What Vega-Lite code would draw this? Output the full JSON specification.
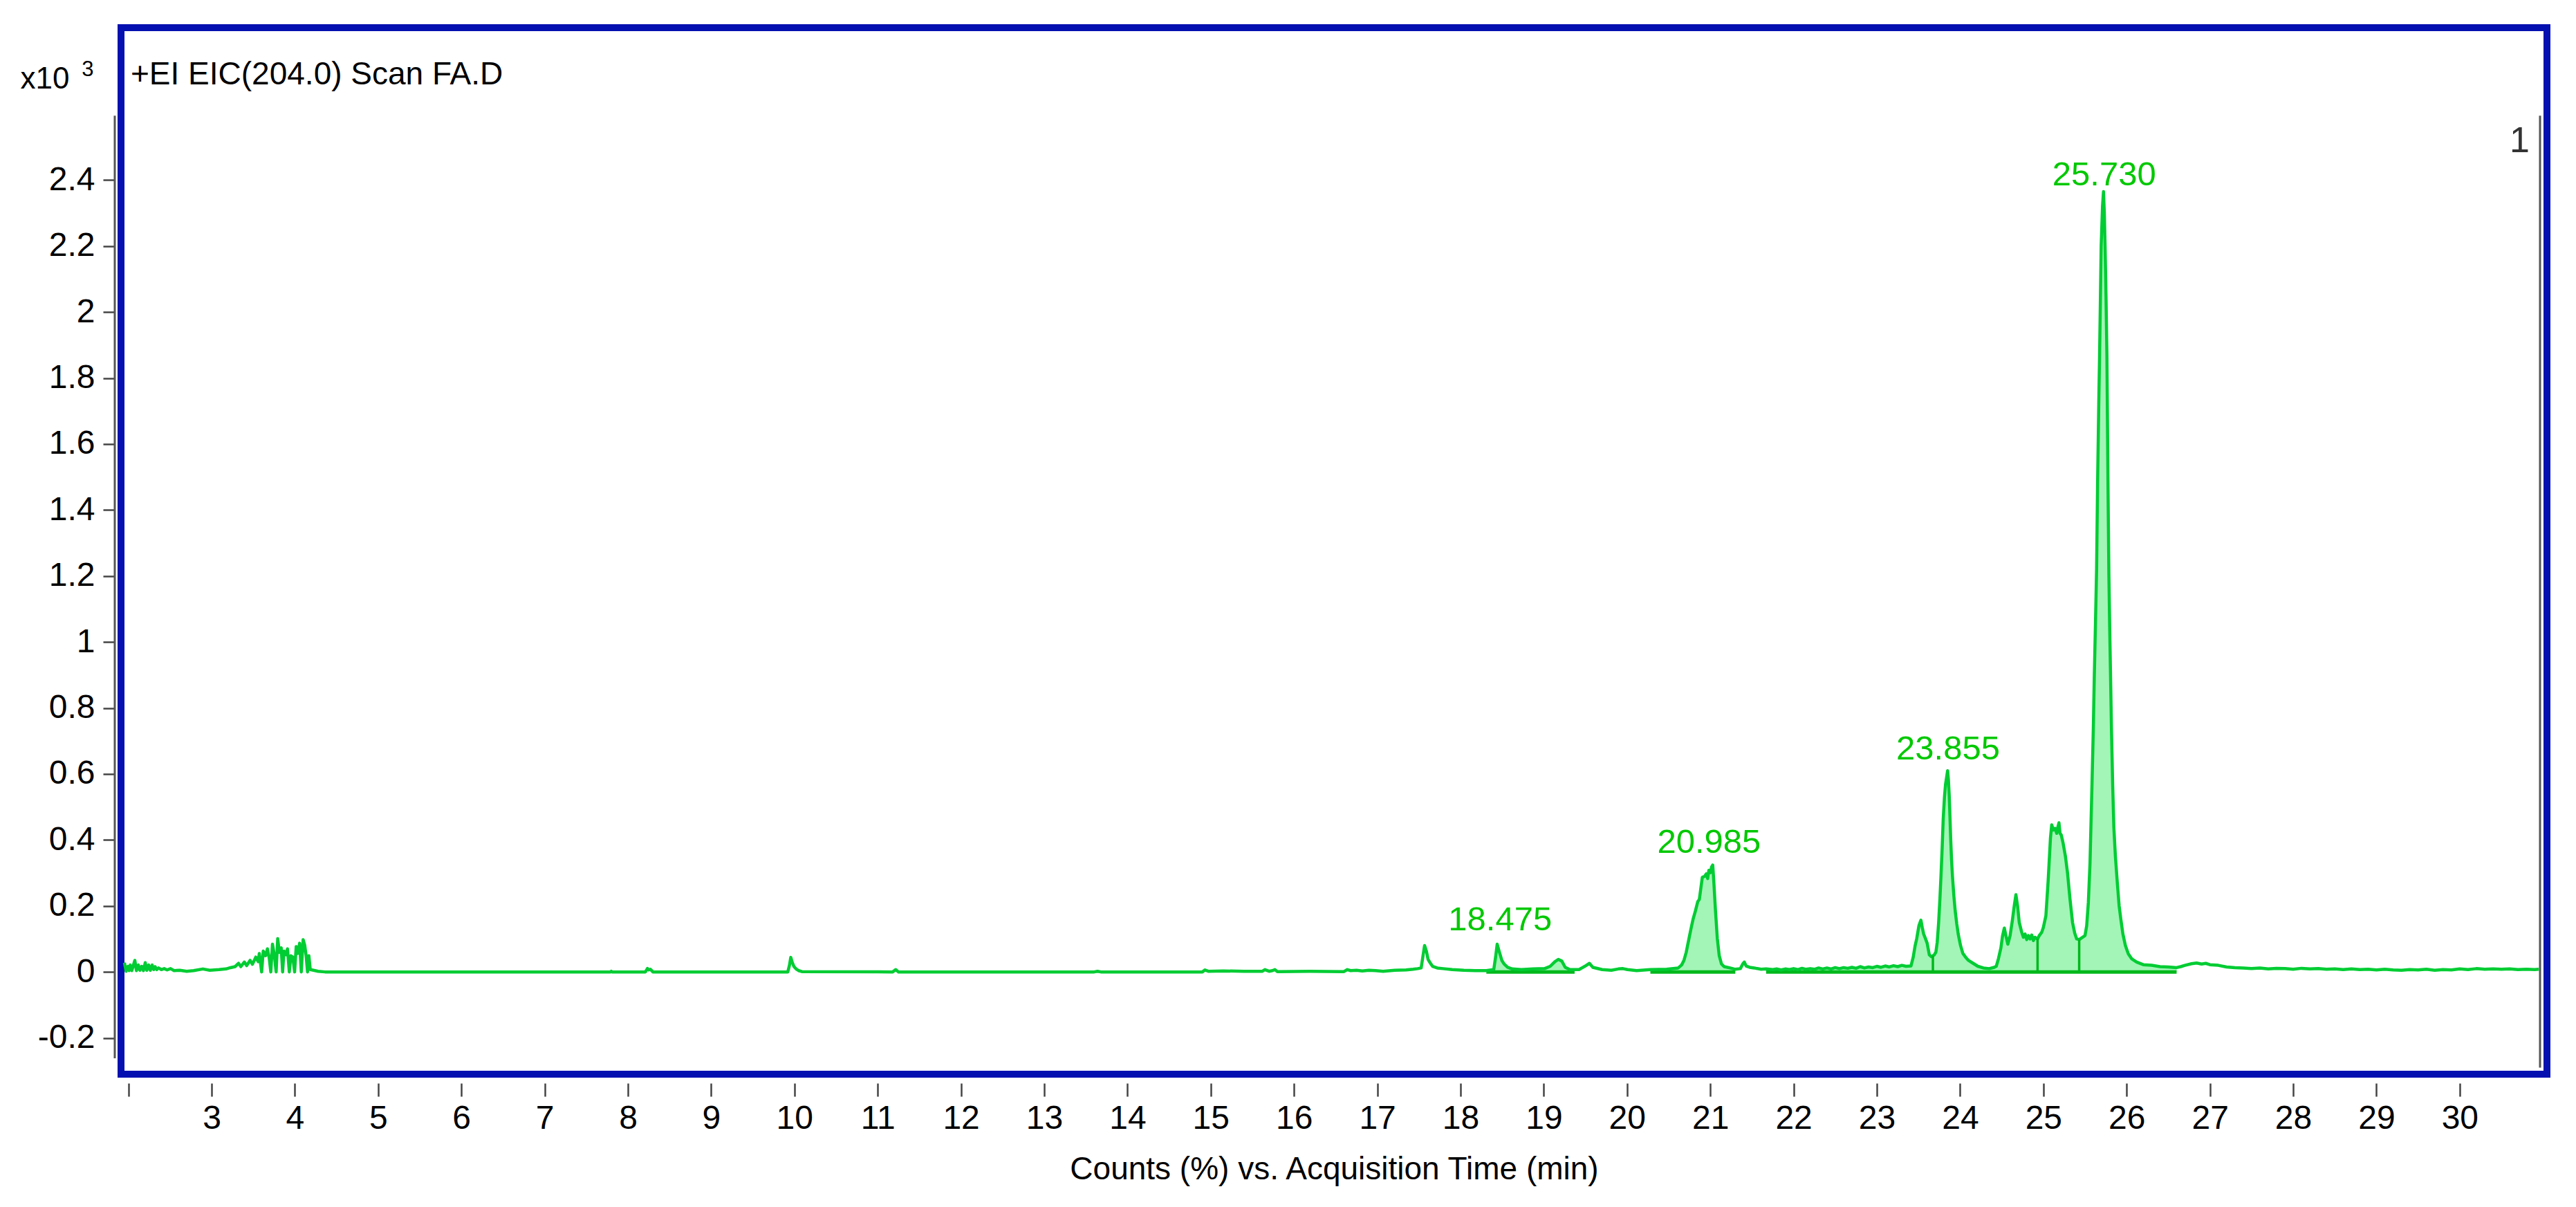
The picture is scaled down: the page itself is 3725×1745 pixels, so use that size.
{
"$schema": "https://vega.github.io/schema/vega-lite/v6.json",
"width": 3508, "height": 1513,
"autosize": {"type": "none"},
"padding": {"left": 175, "top": 40, "right": 42, "bottom": 192},
"background": "white",
"config": {
  "view": {"stroke": "#0510B0", "strokeWidth": 10},
  "font": "Liberation Sans, Arial, sans-serif"
},
"title": {"text": "+EI EIC(204.0) Scan FA.D", "anchor": "start", "frame": "group", "orient": "top", "baseline": "top", "offset": -92, "dx": 14, "fontSize": 46, "fontWeight": "normal", "color": "#000000"},
"datasets": {
  "trace": [
{"t":1.953,"v":0.028},{"t":1.973,"v":0.002},{"t":1.995,"v":0.017},{"t":2.009,"v":0.004},{"t":2.023,"v":0.021},{"t":2.042,"v":0.004},{"t":2.078,"v":0.035},{"t":2.097,"v":0.004},{"t":2.12,"v":0.021},{"t":2.139,"v":0.005},{"t":2.161,"v":0.017},{"t":2.181,"v":0.004},{"t":2.203,"v":0.028},{"t":2.222,"v":0.005},{"t":2.244,"v":0.021},{"t":2.264,"v":0.005},{"t":2.286,"v":0.021},{"t":2.305,"v":0.007},{"t":2.322,"v":0.016},{"t":2.341,"v":0.007},{"t":2.363,"v":0.012},{"t":2.396,"v":0.007},{"t":2.43,"v":0.01},{"t":2.466,"v":0.006},{"t":2.507,"v":0.01},{"t":2.549,"v":0.004},{"t":2.618,"v":0.005},{"t":2.701,"v":0.002},{"t":2.784,"v":0.004},{"t":2.895,"v":0.009},{"t":2.978,"v":0.005},{"t":3.089,"v":0.007},{"t":3.172,"v":0.009},{"t":3.227,"v":0.013},{"t":3.282,"v":0.016},{"t":3.324,"v":0.026},{"t":3.351,"v":0.016},{"t":3.393,"v":0.03},{"t":3.421,"v":0.019},{"t":3.462,"v":0.035},{"t":3.49,"v":0.023},{"t":3.531,"v":0.045},{"t":3.559,"v":0.031},{"t":3.573,"v":0.056},{"t":3.601,"v":0.0},{"t":3.62,"v":0.063},{"t":3.648,"v":0.049},{"t":3.67,"v":0.07},{"t":3.692,"v":0.042},{"t":3.711,"v":0.0},{"t":3.731,"v":0.084},{"t":3.753,"v":0.052},{"t":3.775,"v":0.0},{"t":3.794,"v":0.101},{"t":3.814,"v":0.059},{"t":3.836,"v":0.073},{"t":3.853,"v":0.0},{"t":3.869,"v":0.063},{"t":3.891,"v":0.052},{"t":3.911,"v":0.07},{"t":3.933,"v":0.0},{"t":3.952,"v":0.049},{"t":3.975,"v":0.045},{"t":3.997,"v":0.0},{"t":4.016,"v":0.077},{"t":4.035,"v":0.056},{"t":4.057,"v":0.087},{"t":4.077,"v":0.0},{"t":4.099,"v":0.098},{"t":4.119,"v":0.08},{"t":4.135,"v":0.049},{"t":4.152,"v":0.0},{"t":4.168,"v":0.049},{"t":4.185,"v":0.007},{"t":4.224,"v":0.005},{"t":4.279,"v":0.002},{"t":4.362,"v":0.0},
{"t":4.5,"v":0.0},{"t":5.5,"v":0.0},{"t":6.5,"v":0.0},{"t":7.79,"v":0.0},{"t":7.8,"v":0.002},{"t":7.81,"v":0.0},{"t":8.21,"v":0.0},{"t":8.235,"v":0.0105},{"t":8.25,"v":0.006},{"t":8.27,"v":0.008},{"t":8.3,"v":0.0},{"t":9.92,"v":0.0},{"t":9.94,"v":0.02},{"t":9.956,"v":0.044},{"t":9.975,"v":0.028},{"t":9.995,"v":0.016},{"t":10.02,"v":0.009},{"t":10.05,"v":0.004},{"t":10.09,"v":0.001},{"t":11.18,"v":0.0},{"t":11.216,"v":0.007},{"t":11.25,"v":0.0},{"t":13.6,"v":0.0},{"t":13.64,"v":0.002},{"t":13.68,"v":0.0},{"t":14.9,"v":0.0},{"t":14.93,"v":0.006},{"t":14.97,"v":0.002},{"t":15.15,"v":0.003},{"t":15.4,"v":0.002},{"t":15.62,"v":0.002},{"t":15.65,"v":0.007},{"t":15.7,"v":0.002},{"t":15.74,"v":0.004},{"t":15.77,"v":0.007},{"t":15.8,"v":0.001},{"t":16.19,"v":0.002},{"t":16.6,"v":0.001},{"t":16.64,"v":0.007},{"t":16.68,"v":0.004},{"t":16.75,"v":0.005},{"t":16.82,"v":0.003},{"t":16.9,"v":0.005},{"t":16.98,"v":0.004},{"t":17.07,"v":0.002},
{"t":17.208,"v":0.005},{"t":17.347,"v":0.006},{"t":17.43,"v":0.008},{"t":17.485,"v":0.01},{"t":17.527,"v":0.012},{"t":17.568,"v":0.08},{"t":17.59,"v":0.063},{"t":17.61,"v":0.038},{"t":17.638,"v":0.026},{"t":17.665,"v":0.017},{"t":17.72,"v":0.012},{"t":17.79,"v":0.01},{"t":17.9,"v":0.007},{"t":18.039,"v":0.005},{"t":18.177,"v":0.004},{"t":18.31,"v":0.004},{"t":18.399,"v":0.007},{"t":18.421,"v":0.045},{"t":18.44,"v":0.084},{"t":18.468,"v":0.059},{"t":18.496,"v":0.035},{"t":18.523,"v":0.024},{"t":18.565,"v":0.014},{"t":18.62,"v":0.009},{"t":18.731,"v":0.007},{"t":18.87,"v":0.009},{"t":19.008,"v":0.01},{"t":19.077,"v":0.017},{"t":19.133,"v":0.031},{"t":19.174,"v":0.038},{"t":19.216,"v":0.033},{"t":19.257,"v":0.014},{"t":19.313,"v":0.007},{"t":19.37,"v":0.007},{"t":19.423,"v":0.007},{"t":19.492,"v":0.017},{"t":19.548,"v":0.026},{"t":19.589,"v":0.014},{"t":19.7,"v":0.007},{"t":19.811,"v":0.005},{"t":19.894,"v":0.009},{"t":19.95,"v":0.01},{"t":20.005,"v":0.007},{"t":20.115,"v":0.004},
{"t":20.28,"v":0.007},{"t":20.475,"v":0.008},{"t":20.614,"v":0.012},{"t":20.655,"v":0.021},{"t":20.683,"v":0.035},{"t":20.71,"v":0.059},{"t":20.738,"v":0.094},{"t":20.766,"v":0.129},{"t":20.794,"v":0.161},{"t":20.821,"v":0.185},{"t":20.849,"v":0.213},{"t":20.868,"v":0.22},{"t":20.885,"v":0.252},{"t":20.904,"v":0.287},{"t":20.932,"v":0.29},{"t":20.951,"v":0.297},{"t":20.968,"v":0.283},{"t":20.982,"v":0.308},{"t":21.001,"v":0.301},{"t":21.015,"v":0.318},{"t":21.029,"v":0.324},{"t":21.043,"v":0.269},{"t":21.062,"v":0.185},{"t":21.084,"v":0.101},{"t":21.107,"v":0.049},{"t":21.134,"v":0.024},{"t":21.167,"v":0.016},{"t":21.237,"v":0.012},{"t":21.3,"v":0.008},{"t":21.361,"v":0.01},{"t":21.389,"v":0.024},{"t":21.408,"v":0.03},{"t":21.43,"v":0.018},{"t":21.472,"v":0.014},{"t":21.527,"v":0.012},{"t":21.61,"v":0.008},{"t":21.67,"v":0.009},
{"t":21.75,"v":0.007},{"t":21.8,"v":0.009},{"t":21.85,"v":0.006},{"t":21.9,"v":0.009},{"t":21.95,"v":0.007},{"t":22.0,"v":0.01},{"t":22.05,"v":0.007},{"t":22.1,"v":0.011},{"t":22.15,"v":0.008},{"t":22.2,"v":0.01},{"t":22.25,"v":0.008},{"t":22.3,"v":0.012},{"t":22.35,"v":0.009},{"t":22.4,"v":0.012},{"t":22.45,"v":0.009},{"t":22.5,"v":0.013},{"t":22.55,"v":0.01},{"t":22.6,"v":0.013},{"t":22.65,"v":0.011},{"t":22.7,"v":0.014},{"t":22.75,"v":0.011},{"t":22.8,"v":0.016},{"t":22.85,"v":0.012},{"t":22.9,"v":0.015},{"t":22.95,"v":0.013},{"t":23.0,"v":0.017},{"t":23.05,"v":0.014},{"t":23.1,"v":0.018},{"t":23.15,"v":0.015},{"t":23.2,"v":0.019},{"t":23.25,"v":0.016},{"t":23.3,"v":0.02},{"t":23.35,"v":0.017},{"t":23.41,"v":0.018},
{"t":23.437,"v":0.045},{"t":23.46,"v":0.08},{"t":23.479,"v":0.101},{"t":23.505,"v":0.14},{"t":23.529,"v":0.157},{"t":23.545,"v":0.135},{"t":23.562,"v":0.115},{"t":23.585,"v":0.1},{"t":23.604,"v":0.087},{"t":23.63,"v":0.052},{"t":23.655,"v":0.046},{"t":23.673,"v":0.049},{"t":23.69,"v":0.052},{"t":23.709,"v":0.06},{"t":23.725,"v":0.09},{"t":23.742,"v":0.15},{"t":23.757,"v":0.22},{"t":23.77,"v":0.29},{"t":23.785,"v":0.38},{"t":23.797,"v":0.464},{"t":23.812,"v":0.53},{"t":23.825,"v":0.569},{"t":23.838,"v":0.59},{"t":23.85,"v":0.61},{"t":23.86,"v":0.58},{"t":23.869,"v":0.535},{"t":23.878,"v":0.47},{"t":23.886,"v":0.409},{"t":23.897,"v":0.34},{"t":23.908,"v":0.29},{"t":23.925,"v":0.23},{"t":23.941,"v":0.185},{"t":23.96,"v":0.145},{"t":23.977,"v":0.115},{"t":24.005,"v":0.08},{"t":24.033,"v":0.056},{"t":24.065,"v":0.045},{"t":24.1,"v":0.035},{"t":24.15,"v":0.027},{"t":24.213,"v":0.017},{"t":24.28,"v":0.012},{"t":24.35,"v":0.01},{"t":24.41,"v":0.014},{"t":24.434,"v":0.017},{"t":24.46,"v":0.04},{"t":24.49,"v":0.073},{"t":24.51,"v":0.11},{"t":24.531,"v":0.133},{"t":24.55,"v":0.11},{"t":24.573,"v":0.084},{"t":24.6,"v":0.11},{"t":24.628,"v":0.157},{"t":24.65,"v":0.2},{"t":24.67,"v":0.234},{"t":24.69,"v":0.2},{"t":24.71,"v":0.15},{"t":24.74,"v":0.12},
{"t":24.76,"v":0.105},{"t":24.78,"v":0.115},{"t":24.8,"v":0.098},{"t":24.82,"v":0.11},{"t":24.84,"v":0.1},{"t":24.86,"v":0.112},{"t":24.88,"v":0.095},{"t":24.9,"v":0.105},{"t":24.93,"v":0.1},{"t":24.95,"v":0.11},{"t":24.98,"v":0.12},{"t":25.0,"v":0.135},{"t":25.03,"v":0.17},{"t":25.057,"v":0.275},{"t":25.085,"v":0.406},{"t":25.1,"v":0.446},{"t":25.12,"v":0.43},{"t":25.14,"v":0.435},{"t":25.16,"v":0.42},{"t":25.175,"v":0.44},{"t":25.187,"v":0.452},{"t":25.2,"v":0.42},{"t":25.215,"v":0.415},{"t":25.237,"v":0.39},{"t":25.265,"v":0.35},{"t":25.29,"v":0.3},{"t":25.32,"v":0.22},{"t":25.35,"v":0.15},{"t":25.376,"v":0.118},{"t":25.4,"v":0.1},{"t":25.43,"v":0.098},{"t":25.47,"v":0.105},
{"t":25.5,"v":0.11},{"t":25.52,"v":0.14},{"t":25.54,"v":0.21},{"t":25.56,"v":0.33},{"t":25.583,"v":0.56},{"t":25.6,"v":0.74},{"t":25.611,"v":0.89},{"t":25.625,"v":1.05},{"t":25.639,"v":1.22},{"t":25.652,"v":1.5},{"t":25.665,"v":1.72},{"t":25.675,"v":1.87},{"t":25.694,"v":2.2},{"t":25.71,"v":2.32},{"t":25.722,"v":2.365},{"t":25.732,"v":2.3},{"t":25.741,"v":2.2},{"t":25.752,"v":2.05},{"t":25.763,"v":1.87},{"t":25.777,"v":1.45},{"t":25.787,"v":1.2},{"t":25.796,"v":1.05},{"t":25.808,"v":0.88},{"t":25.818,"v":0.73},{"t":25.832,"v":0.57},{"t":25.846,"v":0.44},{"t":25.865,"v":0.35},{"t":25.888,"v":0.27},{"t":25.91,"v":0.2},{"t":25.93,"v":0.16},{"t":25.955,"v":0.115},{"t":25.985,"v":0.08},{"t":26.02,"v":0.055},{"t":26.06,"v":0.04},{"t":26.12,"v":0.03},{"t":26.2,"v":0.022},
{"t":26.3,"v":0.02},{"t":26.4,"v":0.016},{"t":26.5,"v":0.015},{"t":26.6,"v":0.013},{"t":26.65,"v":0.016},{"t":26.7,"v":0.02},{"t":26.78,"v":0.025},{"t":26.84,"v":0.027},{"t":26.9,"v":0.024},{"t":26.95,"v":0.026},{"t":27.0,"v":0.022},{"t":27.1,"v":0.02},{"t":27.2,"v":0.015},{"t":27.3,"v":0.013},{"t":27.4,"v":0.012},{"t":27.5,"v":0.01},{"t":27.6,"v":0.012},{"t":27.7,"v":0.009},{"t":27.8,"v":0.011},{"t":27.9,"v":0.01},{"t":28.0,"v":0.008},{"t":28.1,"v":0.011},{"t":28.2,"v":0.009},{"t":28.3,"v":0.01},{"t":28.4,"v":0.008},{"t":28.5,"v":0.009},{"t":28.6,"v":0.007},{"t":28.7,"v":0.009},{"t":28.8,"v":0.007},{"t":28.9,"v":0.008},{"t":29.0,"v":0.006},{"t":29.1,"v":0.008},{"t":29.2,"v":0.006},{"t":29.3,"v":0.005},{"t":29.4,"v":0.007},{"t":29.5,"v":0.006},{"t":29.6,"v":0.008},{"t":29.7,"v":0.005},{"t":29.8,"v":0.007},{"t":29.9,"v":0.006},{"t":30.0,"v":0.009},{"t":30.1,"v":0.007},{"t":30.2,"v":0.01},{"t":30.3,"v":0.008},{"t":30.4,"v":0.009},{"t":30.5,"v":0.008},{"t":30.6,"v":0.009},{"t":30.7,"v":0.007},{"t":30.8,"v":0.008},{"t":30.9,"v":0.007},{"t":30.95,"v":0.008}
  ],
  "labels": [
    {"t":18.475,"ly":0.126,"label":"18.475"},
    {"t":20.985,"ly":0.36,"label":"20.985"},
    {"t":23.855,"ly":0.644,"label":"23.855"},
    {"t":25.73,"ly":2.385,"label":"25.730"}
  ],
  "bases": [{"a":18.31,"b":19.37},{"a":20.28,"b":21.3},{"a":21.67,"b":26.6}],
  "drops": [{"t":23.673,"v":0.049},{"t":24.93,"v":0.1},{"t":25.43,"v":0.098}],
  "axislines": [{"t":1.837,"lo":-0.262,"hi":2.595},{"t":30.965,"lo":-0.29,"hi":2.595}],
  "marker": [{"t":30.84,"v":2.484,"label":"1"}],
  "exponent": [{"t":1.44,"v":2.715,"label":"3"}]
},
"layer": [
  {
    "data": {"name": "trace"},
    "transform": [{"filter": {"field": "t", "range": [18.31, 19.37]}}],
    "mark": {"type": "area", "color": "#A2F5B6", "opacity": 1},
    "encoding": {
      "x": {"field": "t", "type": "quantitative", "scale": {"domain": [1.912, 31.048], "nice": false, "zero": false},
        "axis": {
          "values": [2,3,4,5,6,7,8,9,10,11,12,13,14,15,16,17,18,19,20,21,22,23,24,25,26,27,28,29,30],
          "format": "d",
          "labelExpr": "datum.value == 2 ? '' : datum.label",
          "domain": false, "grid": false,
          "offset": 13, "tickSize": 19, "tickWidth": 2.5, "tickColor": "#444444",
          "labelFontSize": 48, "labelColor": "#000000", "labelPadding": 8,
          "labelOverlap": false, "labelFlush": false,
          "title": "Counts (%) vs. Acquisition Time (min)", "titleFontSize": 46, "titleFontWeight": "normal", "titleColor": "#000000", "titlePadding": 27
        }
      },
      "y": {"field": "v", "type": "quantitative", "stack": null, "scale": {"domain": [-0.31, 2.862], "nice": false, "zero": false},
        "axis": {
          "values": [-0.2,0,0.2,0.4,0.6,0.8,1,1.2,1.4,1.6,1.8,2,2.2,2.4],
          "labelExpr": "datum.value < 0 ? '-' + format(-datum.value, '.1~f') : format(datum.value, '.1~f')",
          "domain": false, "grid": false,
          "offset": 9, "tickSize": 17, "tickWidth": 2.5, "tickColor": "#444444",
          "labelFontSize": 48, "labelColor": "#000000", "labelPadding": 12, "labelOverlap": false, "labelFlush": false,
          "title": "x10", "titleAngle": 0, "titleAlign": "left", "titleBaseline": "alphabetic",
          "titleX": -137, "titleY": 87, "titleFontSize": 44, "titleFontWeight": "normal", "titleColor": "#000000"
        }
      }
    }
  },
  {
    "data": {"name": "trace"},
    "transform": [{"filter": {"field": "t", "range": [20.28, 21.3]}}],
    "mark": {"type": "area", "color": "#A2F5B6", "opacity": 1},
    "encoding": {
      "x": {"field": "t", "type": "quantitative"},
      "y": {"field": "v", "type": "quantitative", "stack": null}
    }
  },
  {
    "data": {"name": "trace"},
    "transform": [{"filter": {"field": "t", "range": [21.67, 26.6]}}],
    "mark": {"type": "area", "color": "#A2F5B6", "opacity": 1},
    "encoding": {
      "x": {"field": "t", "type": "quantitative"},
      "y": {"field": "v", "type": "quantitative", "stack": null}
    }
  },
  {
    "data": {"name": "bases"},
    "mark": {"type": "rule", "color": "#00B81C", "strokeWidth": 5},
    "encoding": {
      "x": {"field": "a", "type": "quantitative"},
      "x2": {"field": "b"},
      "y": {"datum": 0}
    }
  },
  {
    "data": {"name": "trace"},
    "mark": {"type": "line", "color": "#00CC33", "strokeWidth": 4.5, "strokeJoin": "round"},
    "encoding": {
      "x": {"field": "t", "type": "quantitative"},
      "y": {"field": "v", "type": "quantitative"}
    }
  },
  {
    "data": {"name": "drops"},
    "mark": {"type": "rule", "color": "#00B81C", "strokeWidth": 3.5},
    "encoding": {
      "x": {"field": "t", "type": "quantitative"},
      "y": {"field": "v", "type": "quantitative"},
      "y2": {"datum": 0}
    }
  },
  {
    "data": {"name": "axislines"},
    "mark": {"type": "rule", "color": "#555555", "strokeWidth": 3},
    "encoding": {
      "x": {"field": "t", "type": "quantitative"},
      "y": {"field": "lo", "type": "quantitative"},
      "y2": {"field": "hi"}
    }
  },
  {
    "data": {"name": "labels"},
    "mark": {"type": "text", "color": "#00C800", "fontSize": 49, "align": "center", "baseline": "alphabetic"},
    "encoding": {
      "x": {"field": "t", "type": "quantitative"},
      "y": {"field": "ly", "type": "quantitative"},
      "text": {"field": "label"}
    }
  },
  {
    "data": {"name": "marker"},
    "mark": {"type": "text", "color": "#333333", "fontSize": 52, "align": "right", "baseline": "alphabetic"},
    "encoding": {
      "x": {"field": "t", "type": "quantitative"},
      "y": {"field": "v", "type": "quantitative"},
      "text": {"field": "label"}
    }
  },
  {
    "data": {"name": "exponent"},
    "mark": {"type": "text", "color": "#000000", "fontSize": 31, "align": "left", "baseline": "alphabetic"},
    "encoding": {
      "x": {"field": "t", "type": "quantitative"},
      "y": {"field": "v", "type": "quantitative"},
      "text": {"field": "label"}
    }
  }
]
}
